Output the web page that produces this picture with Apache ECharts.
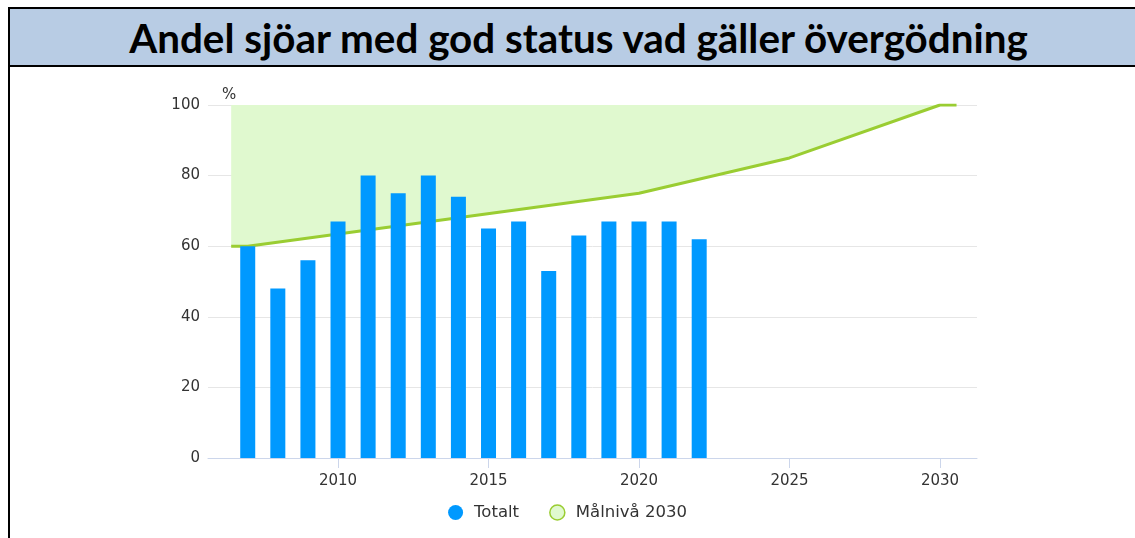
<!DOCTYPE html>
<html>
<head>
<meta charset="utf-8">
<script src="https://cdn.jsdelivr.net/npm/echarts@6/dist/echarts.min.js"></script>
<style>
  html, body { margin: 0; padding: 0; background: #fff; }
  #frame { position: relative; width: 1135px; height: 538px; overflow: hidden; }
  #head {
    position: absolute; left: 8px; top: 7px; width: 1117px; height: 56px; padding-left: 10px;
    background: #b8cce4; border-top: 2px solid #000; border-bottom: 2px solid #000; border-left: 2px solid #000;
    font: bold 40.4px Lato, "Open Sans", sans-serif; color: #000;
    text-align: center; line-height: 58px;
  }
  #side { position: absolute; left: 8px; top: 65px; width: 2px; height: 473px; background: #000; }
  #main { position: absolute; left: 0; top: 0; width: 1135px; height: 538px; }
</style>
</head>
<body>
<div id="frame">
  <div id="main"></div>
  <div id="head">Andel sjöar med god status vad gäller övergödning</div>
  <div id="side"></div>
</div>
<script>
var years = [2007, 2008, 2009, 2010, 2011, 2012, 2013, 2014, 2015, 2016, 2017, 2018, 2019, 2020, 2021, 2022]
var totalt = [60, 48, 56, 67, 80, 75, 80, 74, 65, 67, 53, 63, 67, 67, 67, 62]
var malYears = [2006.45, 2007, 2020, 2025, 2030, 2030.55]
var malniva = [60, 60, 75, 85, 100, 100]
var xTicks = [2010, 2015, 2020, 2025, 2030]

var myChart = echarts.init(document.getElementById('main'))
var font = 'DejaVu Sans'
myChart.setOption({
  animation: false,
  grid: { left: 208, right: 158, top: 105, bottom: 80 },
  graphic: [{
    type: 'text', left: 222, top: 88,
    style: { text: '%', font: '15px "DejaVu Sans"', fill: '#333' }
  }],
  legend: {
    bottom: 12, left: 'center', icon: 'circle', itemWidth: 15, itemHeight: 15, itemGap: 30,
    textStyle: { fontFamily: font, fontSize: 16.5, color: '#333', padding: [0, 0, 0, 6] },
    data: [
      { name: 'Totalt', itemStyle: { color: '#0099ff' } },
      { name: 'Målnivå 2030', itemStyle: { color: '#e0f9cf', borderColor: '#9acd32', borderWidth: 1.5 } }
    ]
  },
  xAxis: {
    type: 'value', min: 2005.68, max: 2031.23,
    axisLine: { lineStyle: { color: '#ccd6eb' } },
    axisTick: { show: true, length: 10, customValues: xTicks, lineStyle: { color: '#ccd6eb' } },
    axisLabel: {
      customValues: xTicks, margin: 16, fontFamily: font, fontSize: 15, color: '#333',
      formatter: function (v) { return String(v) }
    },
    splitLine: { show: false }
  },
  yAxis: {
    type: 'value', min: 0, max: 100, interval: 20,
    axisLine: { show: false },
    axisTick: { show: false },
    axisLabel: { margin: 8, fontFamily: font, fontSize: 15, color: '#333' },
    splitLine: { lineStyle: { color: '#e6e6e6' } }
  },
  series: [
    {
      name: 'Målnivå 2030', type: 'line', z: 1,
      data: malYears.map(function (y, i) { return [y, malniva[i]] }),
      showSymbol: false, symbol: 'circle',
      lineStyle: { color: '#9acd32', width: 3 },
      itemStyle: { color: '#9acd32' },
      areaStyle: { origin: 'end', color: '#e0f9cf', opacity: 1 }
    },
    {
      name: 'Totalt', type: 'bar', z: 3, barWidth: 15,
      data: years.map(function (y, i) { return [y, totalt[i]] }),
      itemStyle: { color: '#0099ff' }
    }
  ]
})
</script>
</body>
</html>
